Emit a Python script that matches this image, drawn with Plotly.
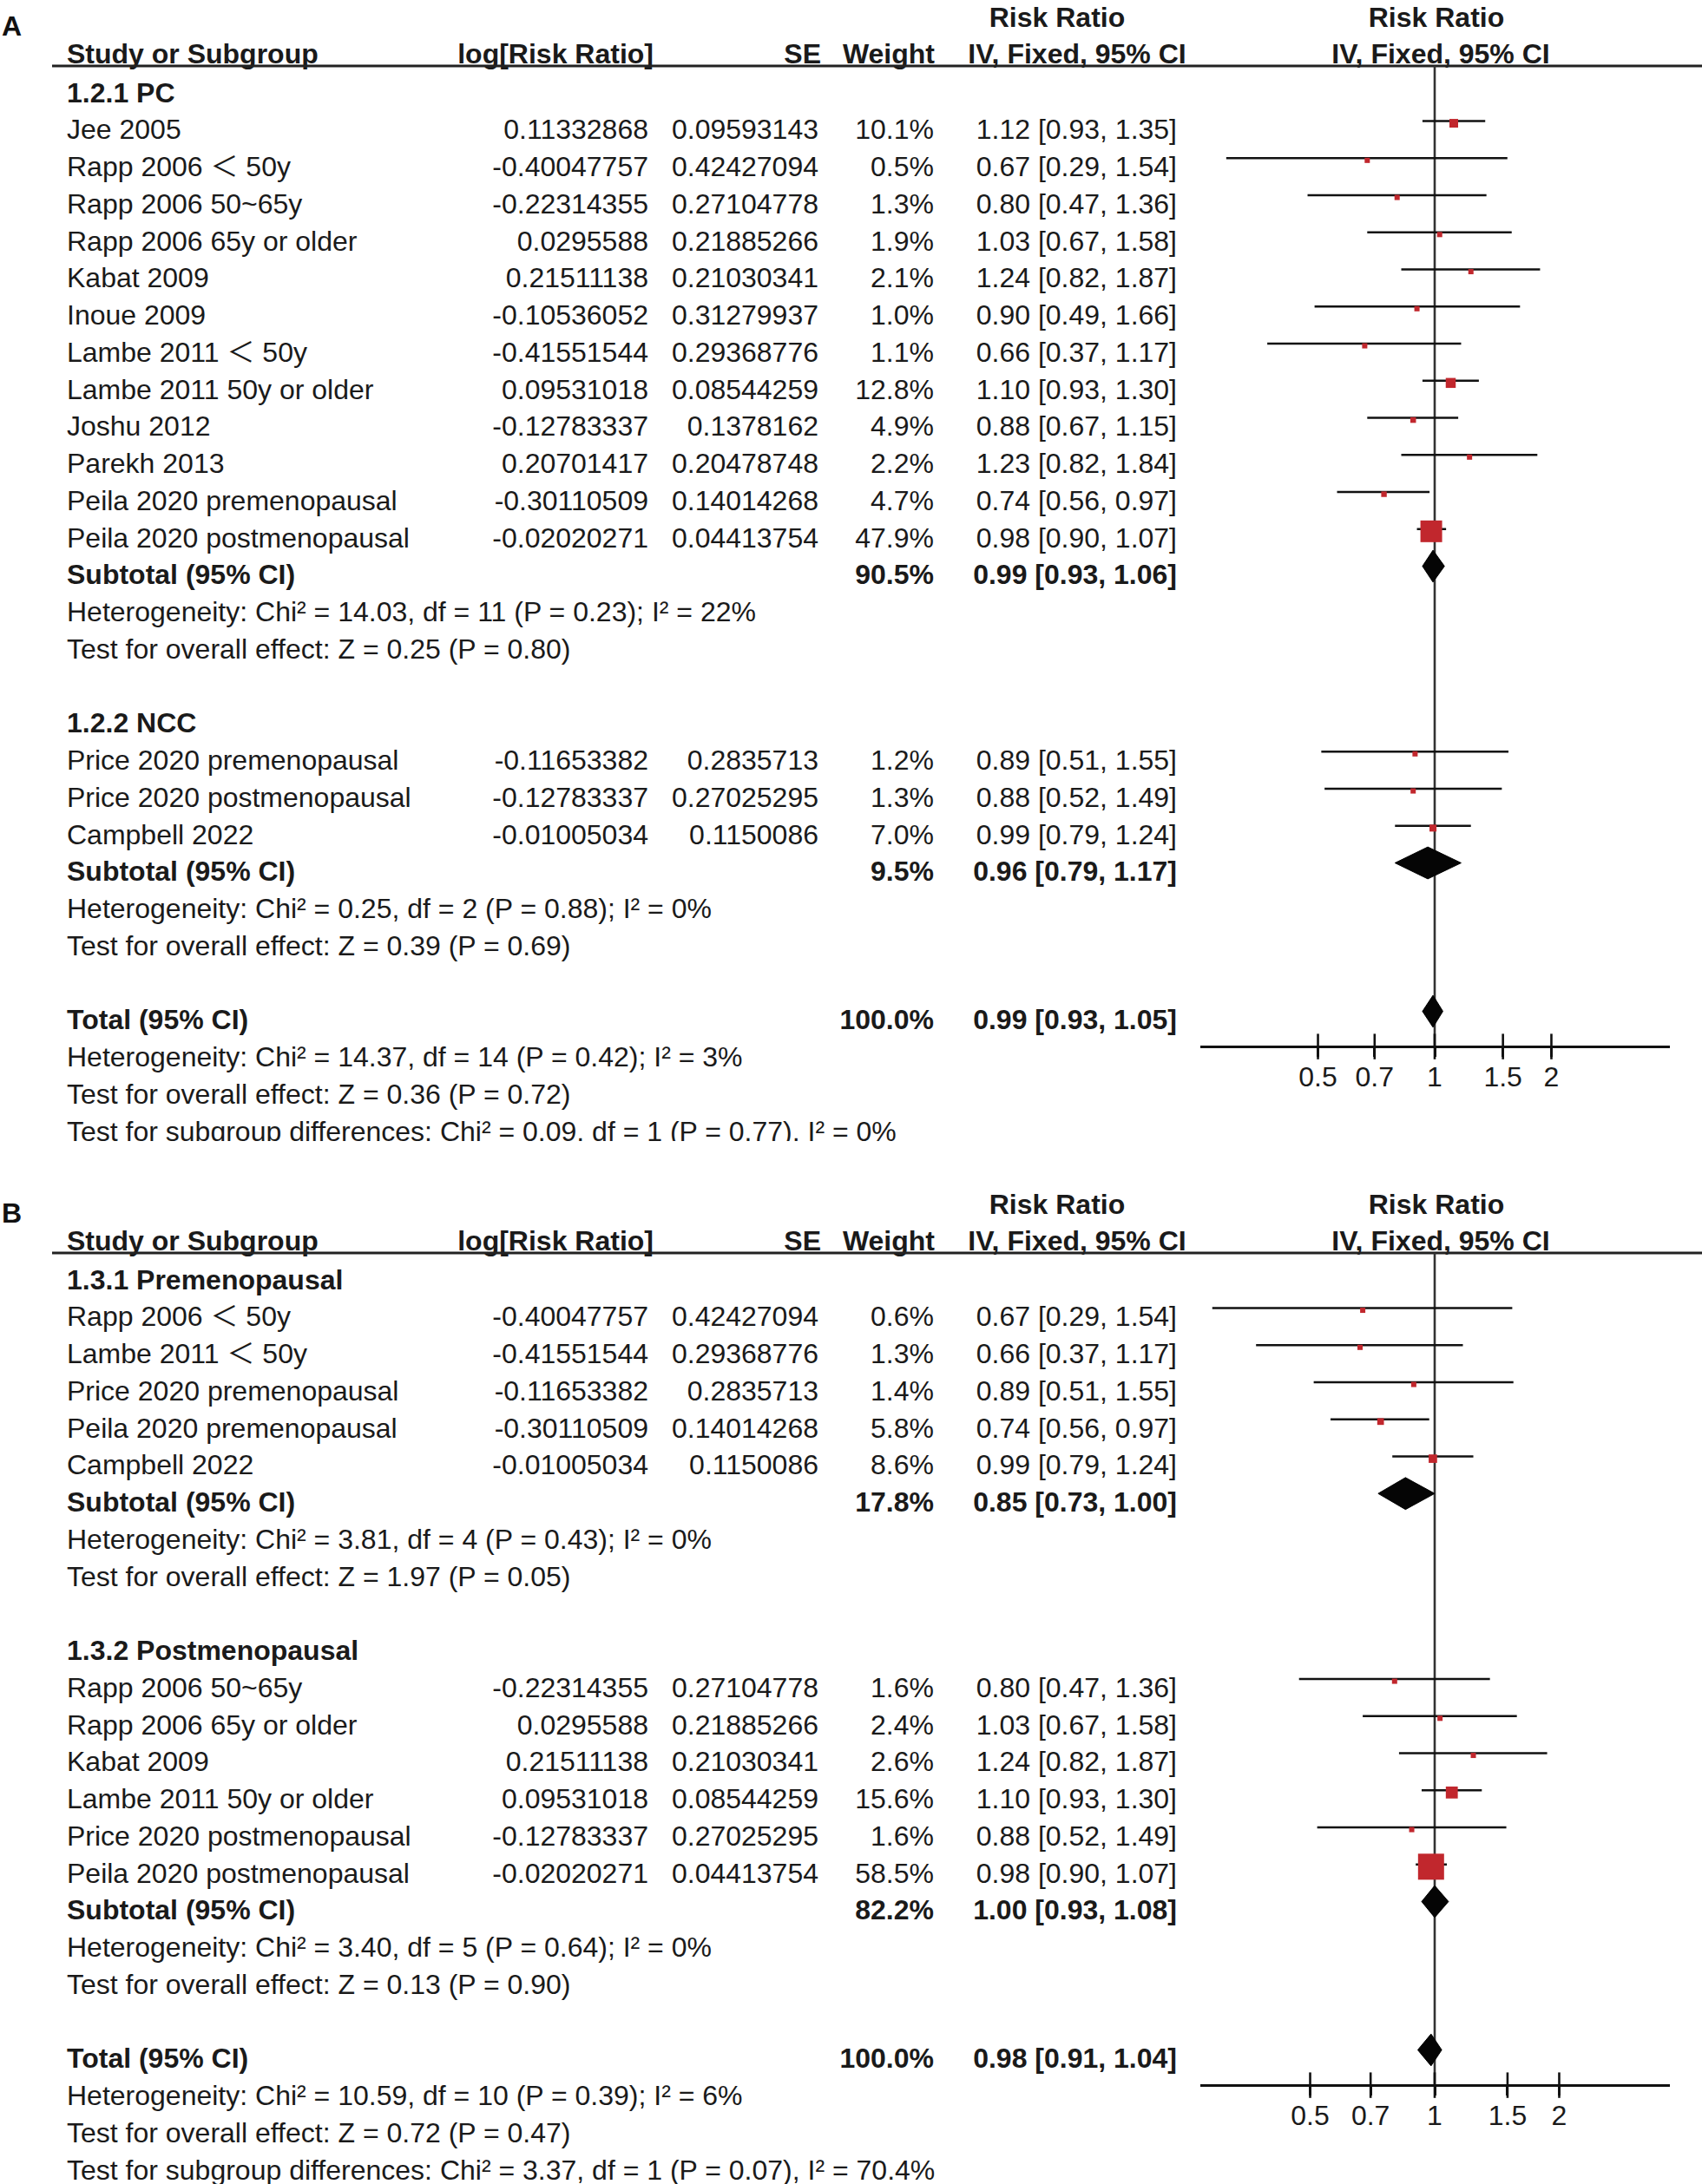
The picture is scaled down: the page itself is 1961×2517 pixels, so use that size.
import math
import plotly.graph_objects as go

# ======================= DATA =======================
# ---- Panel A : subgroup 1.2.1 PC ----
A1_TITLE = "1.2.1 PC"
A1_STUDY = ["Jee 2005", "Rapp 2006 ＜ 50y", "Rapp 2006 50~65y", "Rapp 2006 65y or older",
            "Kabat 2009", "Inoue 2009", "Lambe 2011 ＜ 50y", "Lambe 2011 50y or older",
            "Joshu 2012", "Parekh 2013", "Peila 2020 premenopausal", "Peila 2020 postmenopausal"]
A1_LOG = [0.11332868, -0.40047757, -0.22314355, 0.0295588, 0.21511138, -0.10536052,
          -0.41551544, 0.09531018, -0.12783337, 0.20701417, -0.30110509, -0.02020271]
A1_SE = [0.09593143, 0.42427094, 0.27104778, 0.21885266, 0.21030341, 0.31279937,
         0.29368776, 0.08544259, 0.1378162, 0.20478748, 0.14014268, 0.04413754]
A1_W = [10.1, 0.5, 1.3, 1.9, 2.1, 1.0, 1.1, 12.8, 4.9, 2.2, 4.7, 47.9]
A1_RR = [1.12, 0.67, 0.80, 1.03, 1.24, 0.90, 0.66, 1.10, 0.88, 1.23, 0.74, 0.98]
A1_LO = [0.93, 0.29, 0.47, 0.67, 0.82, 0.49, 0.37, 0.93, 0.67, 0.82, 0.56, 0.90]
A1_HI = [1.35, 1.54, 1.36, 1.58, 1.87, 1.66, 1.17, 1.30, 1.15, 1.84, 0.97, 1.07]
A1_SUB = [90.5, 0.99, 0.93, 1.06]          # weight, RR, lower, upper
A1_HET = "Heterogeneity: Chi² = 14.03, df = 11 (P = 0.23); I² = 22%"
A1_TEST = "Test for overall effect: Z = 0.25 (P = 0.80)"

# ---- Panel A : subgroup 1.2.2 NCC ----
A2_TITLE = "1.2.2 NCC"
A2_STUDY = ["Price 2020 premenopausal", "Price 2020 postmenopausal", "Campbell 2022"]
A2_LOG = [-0.11653382, -0.12783337, -0.01005034]
A2_SE = [0.2835713, 0.27025295, 0.1150086]
A2_W = [1.2, 1.3, 7.0]
A2_RR = [0.89, 0.88, 0.99]
A2_LO = [0.51, 0.52, 0.79]
A2_HI = [1.55, 1.49, 1.24]
A2_SUB = [9.5, 0.96, 0.79, 1.17]
A2_HET = "Heterogeneity: Chi² = 0.25, df = 2 (P = 0.88); I² = 0%"
A2_TEST = "Test for overall effect: Z = 0.39 (P = 0.69)"

# ---- Panel A : total ----
A_TOTAL = [100.0, 0.99, 0.93, 1.05]
A_TOT_HET = "Heterogeneity: Chi² = 14.37, df = 14 (P = 0.42); I² = 3%"
A_TOT_TEST = "Test for overall effect: Z = 0.36 (P = 0.72)"
A_SUBDIFF = "Test for subgroup differences: Chi² = 0.09, df = 1 (P = 0.77), I² = 0%"

# ---- Panel B : subgroup 1.3.1 Premenopausal ----
B1_TITLE = "1.3.1 Premenopausal"
B1_STUDY = ["Rapp 2006 ＜ 50y", "Lambe 2011 ＜ 50y", "Price 2020 premenopausal",
            "Peila 2020 premenopausal", "Campbell 2022"]
B1_LOG = [-0.40047757, -0.41551544, -0.11653382, -0.30110509, -0.01005034]
B1_SE = [0.42427094, 0.29368776, 0.2835713, 0.14014268, 0.1150086]
B1_W = [0.6, 1.3, 1.4, 5.8, 8.6]
B1_RR = [0.67, 0.66, 0.89, 0.74, 0.99]
B1_LO = [0.29, 0.37, 0.51, 0.56, 0.79]
B1_HI = [1.54, 1.17, 1.55, 0.97, 1.24]
B1_SUB = [17.8, 0.85, 0.73, 1.00]
B1_HET = "Heterogeneity: Chi² = 3.81, df = 4 (P = 0.43); I² = 0%"
B1_TEST = "Test for overall effect: Z = 1.97 (P = 0.05)"

# ---- Panel B : subgroup 1.3.2 Postmenopausal ----
B2_TITLE = "1.3.2 Postmenopausal"
B2_STUDY = ["Rapp 2006 50~65y", "Rapp 2006 65y or older", "Kabat 2009",
            "Lambe 2011 50y or older", "Price 2020 postmenopausal", "Peila 2020 postmenopausal"]
B2_LOG = [-0.22314355, 0.0295588, 0.21511138, 0.09531018, -0.12783337, -0.02020271]
B2_SE = [0.27104778, 0.21885266, 0.21030341, 0.08544259, 0.27025295, 0.04413754]
B2_W = [1.6, 2.4, 2.6, 15.6, 1.6, 58.5]
B2_RR = [0.80, 1.03, 1.24, 1.10, 0.88, 0.98]
B2_LO = [0.47, 0.67, 0.82, 0.93, 0.52, 0.90]
B2_HI = [1.36, 1.58, 1.87, 1.30, 1.49, 1.07]
B2_SUB = [82.2, 1.00, 0.93, 1.08]
B2_HET = "Heterogeneity: Chi² = 3.40, df = 5 (P = 0.64); I² = 0%"
B2_TEST = "Test for overall effect: Z = 0.13 (P = 0.90)"

# ---- Panel B : total ----
B_TOTAL = [100.0, 0.98, 0.91, 1.04]
B_TOT_HET = "Heterogeneity: Chi² = 10.59, df = 10 (P = 0.39); I² = 6%"
B_TOT_TEST = "Test for overall effect: Z = 0.72 (P = 0.47)"
B_SUBDIFF = "Test for subgroup differences: Chi² = 3.37, df = 1 (P = 0.07), I² = 70.4%"

# ---- axis ticks ----
TICK_VALS = [0.5, 0.7, 1, 1.5, 2]
TICK_TEXT = ["0.5", "0.7", "1", "1.5", "2"]

# ======================= STYLE =======================
W, H = 1961, 2517
FONT = "Liberation Sans, Arial, Noto Sans CJK SC, sans-serif"
FS = 32
TXT = "#1a1a1a"
RED = "#C1272D"
ROW0, ROWH = 139.5, 42.75          # pixel of row 0 and row pitch
TY = 0.30                          # text offset below the row line (rows)
HY = 0.05                          # header text offset (rows)
SQ_DY = 0.06
DIA_H = 0.43

COL_STUDY, COL_LOG, COL_SE, COL_W, COL_CI = 77, 747, 943, 1076, 1356


def g2pix(g):
    return ROW0 + ROWH * g


def pix2g(p):
    return (p - ROW0) / ROWH


def ci_txt(rr, lo, hi):
    return f"{rr:.2f} [{lo:.2f}, {hi:.2f}]"


fig = go.Figure()


def build_panel(g0, groups, total, tot_het, tot_test, subdiff, xa, ya, sq_ref):
    L, R, C = [], [], []
    # headers
    C.append((1218, g0 - 2.77 + HY, "<b>Risk Ratio</b>"))
    C.append((1655, g0 - 2.77 + HY, "<b>Risk Ratio</b>"))
    L.append((COL_STUDY, g0 - 1.79 + HY, "<b>Study or Subgroup</b>"))
    R.append((753, g0 - 1.79 + HY, "<b>log[Risk Ratio]</b>"))
    R.append((946, g0 - 1.79 + HY, "<b>SE</b>"))
    R.append((COL_W + 1, g0 - 1.79 + HY, "<b>Weight</b>"))
    C.append((1241, g0 - 1.79 + HY, "<b>IV, Fixed, 95% CI</b>"))
    C.append((1660, g0 - 1.79 + HY, "<b>IV, Fixed, 95% CI</b>"))

    ci_x, ci_y, sq_x, sq_y, sq_s, dx, dy = [], [], [], [], [], [], []
    maxw = max(max(gr[4]) for gr in groups)

    def diamond(g, rr, lo, hi):
        dx.extend([lo, rr, hi, rr, lo, None])
        dy.extend([g, g - DIA_H, g, g + DIA_H, g, None])

    g = g0 - 1
    for title, study, lg, se, wt, rr, lo, hi, sub, het, test in groups:
        L.append((COL_STUDY, g + TY, f"<b>{title}</b>"))
        g += 1
        for i in range(len(study)):
            L.append((COL_STUDY, g + TY, study[i]))
            R.append((COL_LOG, g + TY, str(lg[i])))
            R.append((COL_SE, g + TY, str(se[i])))
            R.append((COL_W, g + TY, f"{wt[i]:.1f}%"))
            R.append((COL_CI, g + TY, ci_txt(rr[i], lo[i], hi[i])))
            ci_x.extend([lo[i], hi[i], None])
            ci_y.extend([g, g, None])
            sq_x.append(rr[i])
            sq_y.append(g + SQ_DY)
            sq_s.append(max(6, sq_ref * (wt[i] / maxw) ** 0.588))
            g += 1
        L.append((COL_STUDY, g + TY, "<b>Subtotal (95% CI)</b>"))
        R.append((COL_W, g + TY, f"<b>{sub[0]:.1f}%</b>"))
        R.append((COL_CI, g + TY, "<b>" + ci_txt(sub[1], sub[2], sub[3]) + "</b>"))
        diamond(g, sub[1], sub[2], sub[3])
        g += 1
        L.append((COL_STUDY, g + TY, het))
        g += 1
        L.append((COL_STUDY, g + TY, test))
        g += 2
    tg = g
    L.append((COL_STUDY, g + TY, "<b>Total (95% CI)</b>"))
    R.append((COL_W, g + TY, f"<b>{total[0]:.1f}%</b>"))
    R.append((COL_CI, g + TY, "<b>" + ci_txt(total[1], total[2], total[3]) + "</b>"))
    diamond(g, total[1], total[2], total[3])
    g += 1
    L.append((COL_STUDY, g + TY, tot_het))
    g += 1
    L.append((COL_STUDY, g + TY, tot_test))
    g += 1
    L.append((COL_STUDY, g + TY, subdiff))

    for items, pos in ((L, "middle right"), (R, "middle left"), (C, "middle center")):
        fig.add_trace(go.Scatter(
            x=[t[0] for t in items], y=[t[1] for t in items], text=[t[2] for t in items],
            mode="text", textposition=pos, cliponaxis=True,
            textfont=dict(family=FONT, size=FS, color=TXT),
            xaxis="x", yaxis=ya, hoverinfo="skip"))

    head_g = g0 - 1.485
    axis_g = tg + 0.95
    # header rule
    fig.add_trace(go.Scatter(x=[60, W], y=[head_g, head_g], mode="lines",
                             line=dict(color="#222222", width=3.2),
                             xaxis="x", yaxis=ya, hoverinfo="skip"))
    # line of no effect
    fig.add_trace(go.Scatter(x=[1, 1], y=[head_g, axis_g], mode="lines",
                             line=dict(color="#333333", width=2.6),
                             xaxis=xa, yaxis=ya, hoverinfo="skip"))
    # CI whiskers
    fig.add_trace(go.Scatter(x=ci_x, y=ci_y, mode="lines",
                             line=dict(color="#111111", width=2.4),
                             xaxis=xa, yaxis=ya, hoverinfo="skip"))
    # weight squares
    fig.add_trace(go.Scatter(x=sq_x, y=sq_y, mode="markers",
                             marker=dict(symbol="square", size=sq_s, color=RED, opacity=1,
                                         line=dict(width=0)),
                             xaxis=xa, yaxis=ya, hoverinfo="skip"))
    # diamonds
    fig.add_trace(go.Scatter(x=dx, y=dy, mode="lines", fill="toself",
                             fillcolor="#050505", line=dict(color="#050505", width=1),
                             xaxis=xa, yaxis=ya, hoverinfo="skip"))
    # crossing tick marks
    fig.add_trace(go.Scatter(x=TICK_VALS, y=[axis_g] * len(TICK_VALS), mode="markers",
                             marker=dict(symbol="line-ns", size=21, opacity=1,
                                         line=dict(color="#111111", width=2.6)),
                             xaxis=xa, yaxis=ya, hoverinfo="skip"))
    return axis_g


A_GROUPS = [
    (A1_TITLE, A1_STUDY, A1_LOG, A1_SE, A1_W, A1_RR, A1_LO, A1_HI, A1_SUB, A1_HET, A1_TEST),
    (A2_TITLE, A2_STUDY, A2_LOG, A2_SE, A2_W, A2_RR, A2_LO, A2_HI, A2_SUB, A2_HET, A2_TEST),
]
B_GROUPS = [
    (B1_TITLE, B1_STUDY, B1_LOG, B1_SE, B1_W, B1_RR, B1_LO, B1_HI, B1_SUB, B1_HET, B1_TEST),
    (B2_TITLE, B2_STUDY, B2_LOG, B2_SE, B2_W, B2_RR, B2_LO, B2_HI, B2_SUB, B2_HET, B2_TEST),
]

axA = build_panel(0, A_GROUPS, A_TOTAL, A_TOT_HET, A_TOT_TEST, A_SUBDIFF, "x2", "y", 25)
axB = build_panel(32, B_GROUPS, B_TOTAL, B_TOT_HET, B_TOT_TEST, B_SUBDIFF, "x3", "y2", 30)

CLIP_A = 1315
TOP_B = 1330
F_L, F_R = 1383, 1924


def forest_axis(pix_per_ln, axis_g):
    lo = (F_L - 1653) / pix_per_ln / math.log(10)
    hi = (F_R - 1653) / pix_per_ln / math.log(10)
    return dict(type="log", domain=[F_L / W, F_R / W], range=[lo, hi],
                anchor="free", position=1 - g2pix(axis_g) / H,
                showline=True, linecolor="#111111", linewidth=2.8,
                tickvals=TICK_VALS, ticktext=TICK_TEXT,
                ticks="outside", ticklen=10, tickwidth=2.6, tickcolor="#111111",
                ticklabelstandoff=-4,
                tickfont=dict(family=FONT, size=FS, color=TXT),
                showgrid=False, zeroline=False, fixedrange=True)


fig.update_layout(
    width=W, height=H, margin=dict(l=0, r=0, t=0, b=0),
    paper_bgcolor="white", plot_bgcolor="rgba(0,0,0,0)", showlegend=False,
    font=dict(family=FONT, size=FS, color=TXT),
    xaxis=dict(domain=[0, 1], range=[0, W], visible=False, fixedrange=True),
    yaxis=dict(domain=[1 - CLIP_A / H, 1], range=[pix2g(CLIP_A), pix2g(0)],
               visible=False, fixedrange=True),
    yaxis2=dict(domain=[0, 1 - TOP_B / H], range=[pix2g(H), pix2g(TOP_B)],
                visible=False, anchor="x", fixedrange=True),
    xaxis2=forest_axis(194, axA),
    xaxis3=forest_axis(207, axB),
    annotations=[
        dict(text="<b>A</b>", x=0, y=1 - 30 / H, xref="paper", yref="paper",
             xanchor="left", yanchor="middle", showarrow=False,
             font=dict(family=FONT, size=32, color="#111111")),
        dict(text="<b>B</b>", x=0, y=1 - 1398 / H, xref="paper", yref="paper",
             xanchor="left", yanchor="middle", showarrow=False,
             font=dict(family=FONT, size=32, color="#111111")),
    ],
)

fig.write_html("out.html", config={"displayModeBar": False},
               post_script="document.body.style.margin='0px';")
